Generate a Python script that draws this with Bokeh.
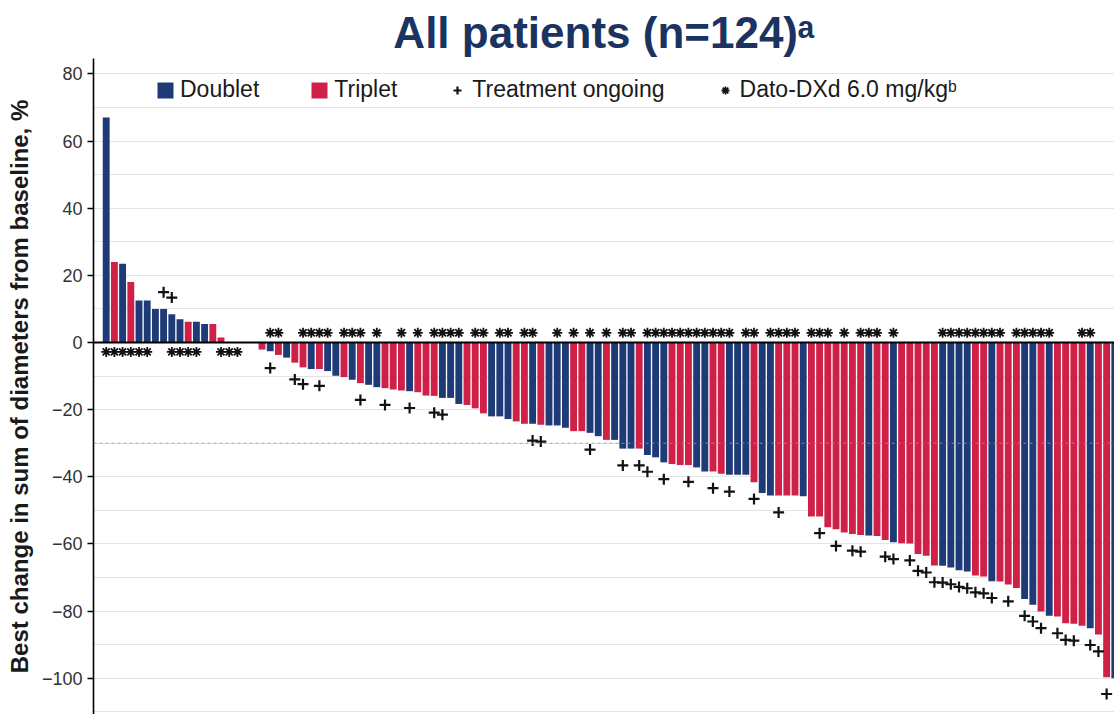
from bokeh.plotting import figure
from bokeh.models import Range1d, FixedTicker, Span, Legend, LegendItem, ColumnDataSource
from bokeh.embed import file_html
from bokeh.resources import INLINE

# Best change in sum of diameters from baseline (%), one value per patient (sorted)
values = [67, 24, 23.5, 18, 12.5, 12.5, 10, 10, 8.4, 6.9,
          6.2, 6.2, 5.5, 5.5, 1.5, 0, 0, 0, 0, -2.1,
          -2.6, -3.7, -4.5, -6, -7.4, -7.9, -7.9, -8.5, -9.9, -10.3,
          -11.1, -12.1, -12.6, -13.3, -13.6, -14, -14.3, -14.5, -14.8, -15.8,
          -15.9, -16.5, -16.5, -18.3, -18.6, -19.6, -21.1, -22.0, -22.0, -22.8,
          -23.5, -24.2, -24.2, -24.5, -24.7, -24.7, -25.4, -26.4, -26.4, -26.9,
          -27.9, -29.0, -29.0, -31.6, -31.6, -31.6, -33.5, -34.2, -35.7, -36.2,
          -36.5, -36.5, -37.2, -38.4, -38.4, -39.1, -39.4, -39.4, -39.4, -41.6,
          -44.8, -45.6, -45.6, -45.6, -45.6, -45.8, -51.8, -51.8, -55, -55.6,
          -56.6, -57, -57.3, -57.5, -57.6, -58.8, -59.5, -59.8, -59.9, -63,
          -63.5, -66.4, -66.5, -67, -67.8, -68.2, -69.4, -69.7, -71.1, -71.2,
          -72.1, -73.1, -76.4, -78.1, -80.1, -81.4, -81.6, -83.6, -83.8, -84.4,
          -85.1, -87, -99.7, -100]

# D = Doublet, T = Triplet
arm = list("DTDTDDDDDD" "TDDTTDDTTT" "DTDTTDTDDT" "DTDDTTTDTT"
           "TDDDTTTDDD" "TTDTDDDTTD" "DTDDDTDDDT" "TTDDTTDDDT"
           "DDTTTDTTTT" "TTTDTTDTTT" "TTDDDDTTDT" "TTDDTDTTTT"
           "DTTD")

# patients (1-based) with treatment ongoing
ongoing = [8, 9, 21, 24, 25, 27, 32, 35, 38, 41, 42, 53, 54, 60, 64, 66, 67, 69,
           72, 75, 77, 80, 83, 88, 90, 92, 93, 96, 97, 99, 100, 101, 102, 103,
           104, 105, 106, 107, 108, 109, 111, 113, 114, 115, 117, 118, 119, 121,
           122, 123]

# patients (1-based) on Dato-DXd 6.0 mg/kg
dose6 = [1, 2, 3, 4, 5, 6, 9, 10, 11, 12, 15, 16, 17, 21, 22, 25, 26, 27, 28,
         30, 31, 32, 34, 37, 39, 41, 42, 43, 44, 46, 47, 49, 50, 52, 53, 56, 58,
         60, 62, 64, 65, 67, 68, 69, 70, 71, 72, 73, 74, 75, 76, 77, 79, 80,
         82, 83, 84, 85, 87, 88, 89, 91, 93, 94, 95, 97, 103, 104, 105, 106,
         107, 108, 109, 110, 112, 113, 114, 115, 116, 120, 121]

BLUE = "#1e3b78"
RED = "#cf2147"

n = len(values)
pos = list(range(1, n + 1))

d_src = ColumnDataSource(dict(x=[i for i, a in zip(pos, arm) if a == "D"],
                              top=[v for v, a in zip(values, arm) if a == "D"]))
t_src = ColumnDataSource(dict(x=[i for i, a in zip(pos, arm) if a == "T"],
                              top=[v for v, a in zip(values, arm) if a == "T"]))

plus_x = ongoing
plus_y = [values[i - 1] + (5 if values[i - 1] > 0 else -5) for i in ongoing]
ast_x = dose6
ast_y = [(-2.8 if values[i - 1] >= 0 else 2.9) for i in dose6]

p = figure(width=1114, height=714, output_backend="svg", toolbar_location=None,
           x_range=Range1d(-0.549, 123.96), y_range=Range1d(-110.8, 84.6),
           x_axis_location=None,
           min_border_left=93, min_border_right=0, min_border_top=58,
           min_border_bottom=0)
p.outline_line_color = None
p.background_fill_color = "white"

p.title.text = "All patients (n=124)\u1d43"
p.title.align = "center"
p.title.offset = 12
p.title.standoff = 3
p.title.text_font = "Liberation Sans"
p.title.text_font_style = "bold"
p.title.text_font_size = "44px"
p.title.text_color = "#1b3360"

p.xgrid.grid_line_color = None
p.ygrid.ticker = FixedTicker(ticks=list(range(-110, 90, 10)))
p.ygrid.grid_line_color = "#e4e4e4"
p.ygrid.grid_line_width = 1

r_d = p.vbar(x="x", top="top", bottom=0, width=0.84, source=d_src,
             fill_color=BLUE, line_color=None)
r_t = p.vbar(x="x", top="top", bottom=0, width=0.84, source=t_src,
             fill_color=RED, line_color=None)

p.add_layout(Span(location=-30, dimension="width", line_color="#9a9a9a",
                  line_dash="3 3", line_width=1, line_alpha=0.8))
p.add_layout(Span(location=0, dimension="width", line_color="black", line_width=2))

r_plus = p.scatter(x=plus_x, y=plus_y, marker="cross", size=11, line_width=2.2,
                   line_color="#111111")
r_ast = p.scatter(x=ast_x, y=ast_y, marker="asterisk", size=10, line_width=1.8,
                  line_color="#111111")

ax = p.yaxis[0]
ax.ticker = FixedTicker(ticks=list(range(-100, 81, 20)))
ax.axis_label = "Best change in sum of diameters from baseline, %"
ax.axis_label_text_font = "Liberation Sans"
ax.axis_label_text_font_style = "bold"
ax.axis_label_text_font_size = "24px"
ax.axis_label_text_color = "#1a1a1a"
ax.axis_label_standoff = 6
ax.major_label_text_font = "Liberation Sans"
ax.major_label_text_font_size = "18px"
ax.major_label_text_color = "#333333"
ax.major_label_standoff = 5
ax.major_tick_out = 6
ax.major_tick_in = 0
ax.minor_tick_line_color = None
ax.axis_line_width = 1.6
ax.major_tick_line_width = 1.4

legend = Legend(items=[LegendItem(label="Doublet", renderers=[r_d]),
                       LegendItem(label="Triplet", renderers=[r_t]),
                       LegendItem(label="Treatment ongoing", renderers=[r_plus]),
                       LegendItem(label="Dato-DXd 6.0 mg/kg\u1d47", renderers=[r_ast])],
                orientation="horizontal", location=(62, 611),
                padding=0, margin=0, spacing=50,
                glyph_width=20, glyph_height=20, label_standoff=5,
                label_text_font="Liberation Sans", label_text_font_size="23px",
                label_text_color="#1a1a1a",
                background_fill_alpha=0, border_line_color=None)
p.add_layout(legend)

open("out.html", "w").write(file_html(p, INLINE))
